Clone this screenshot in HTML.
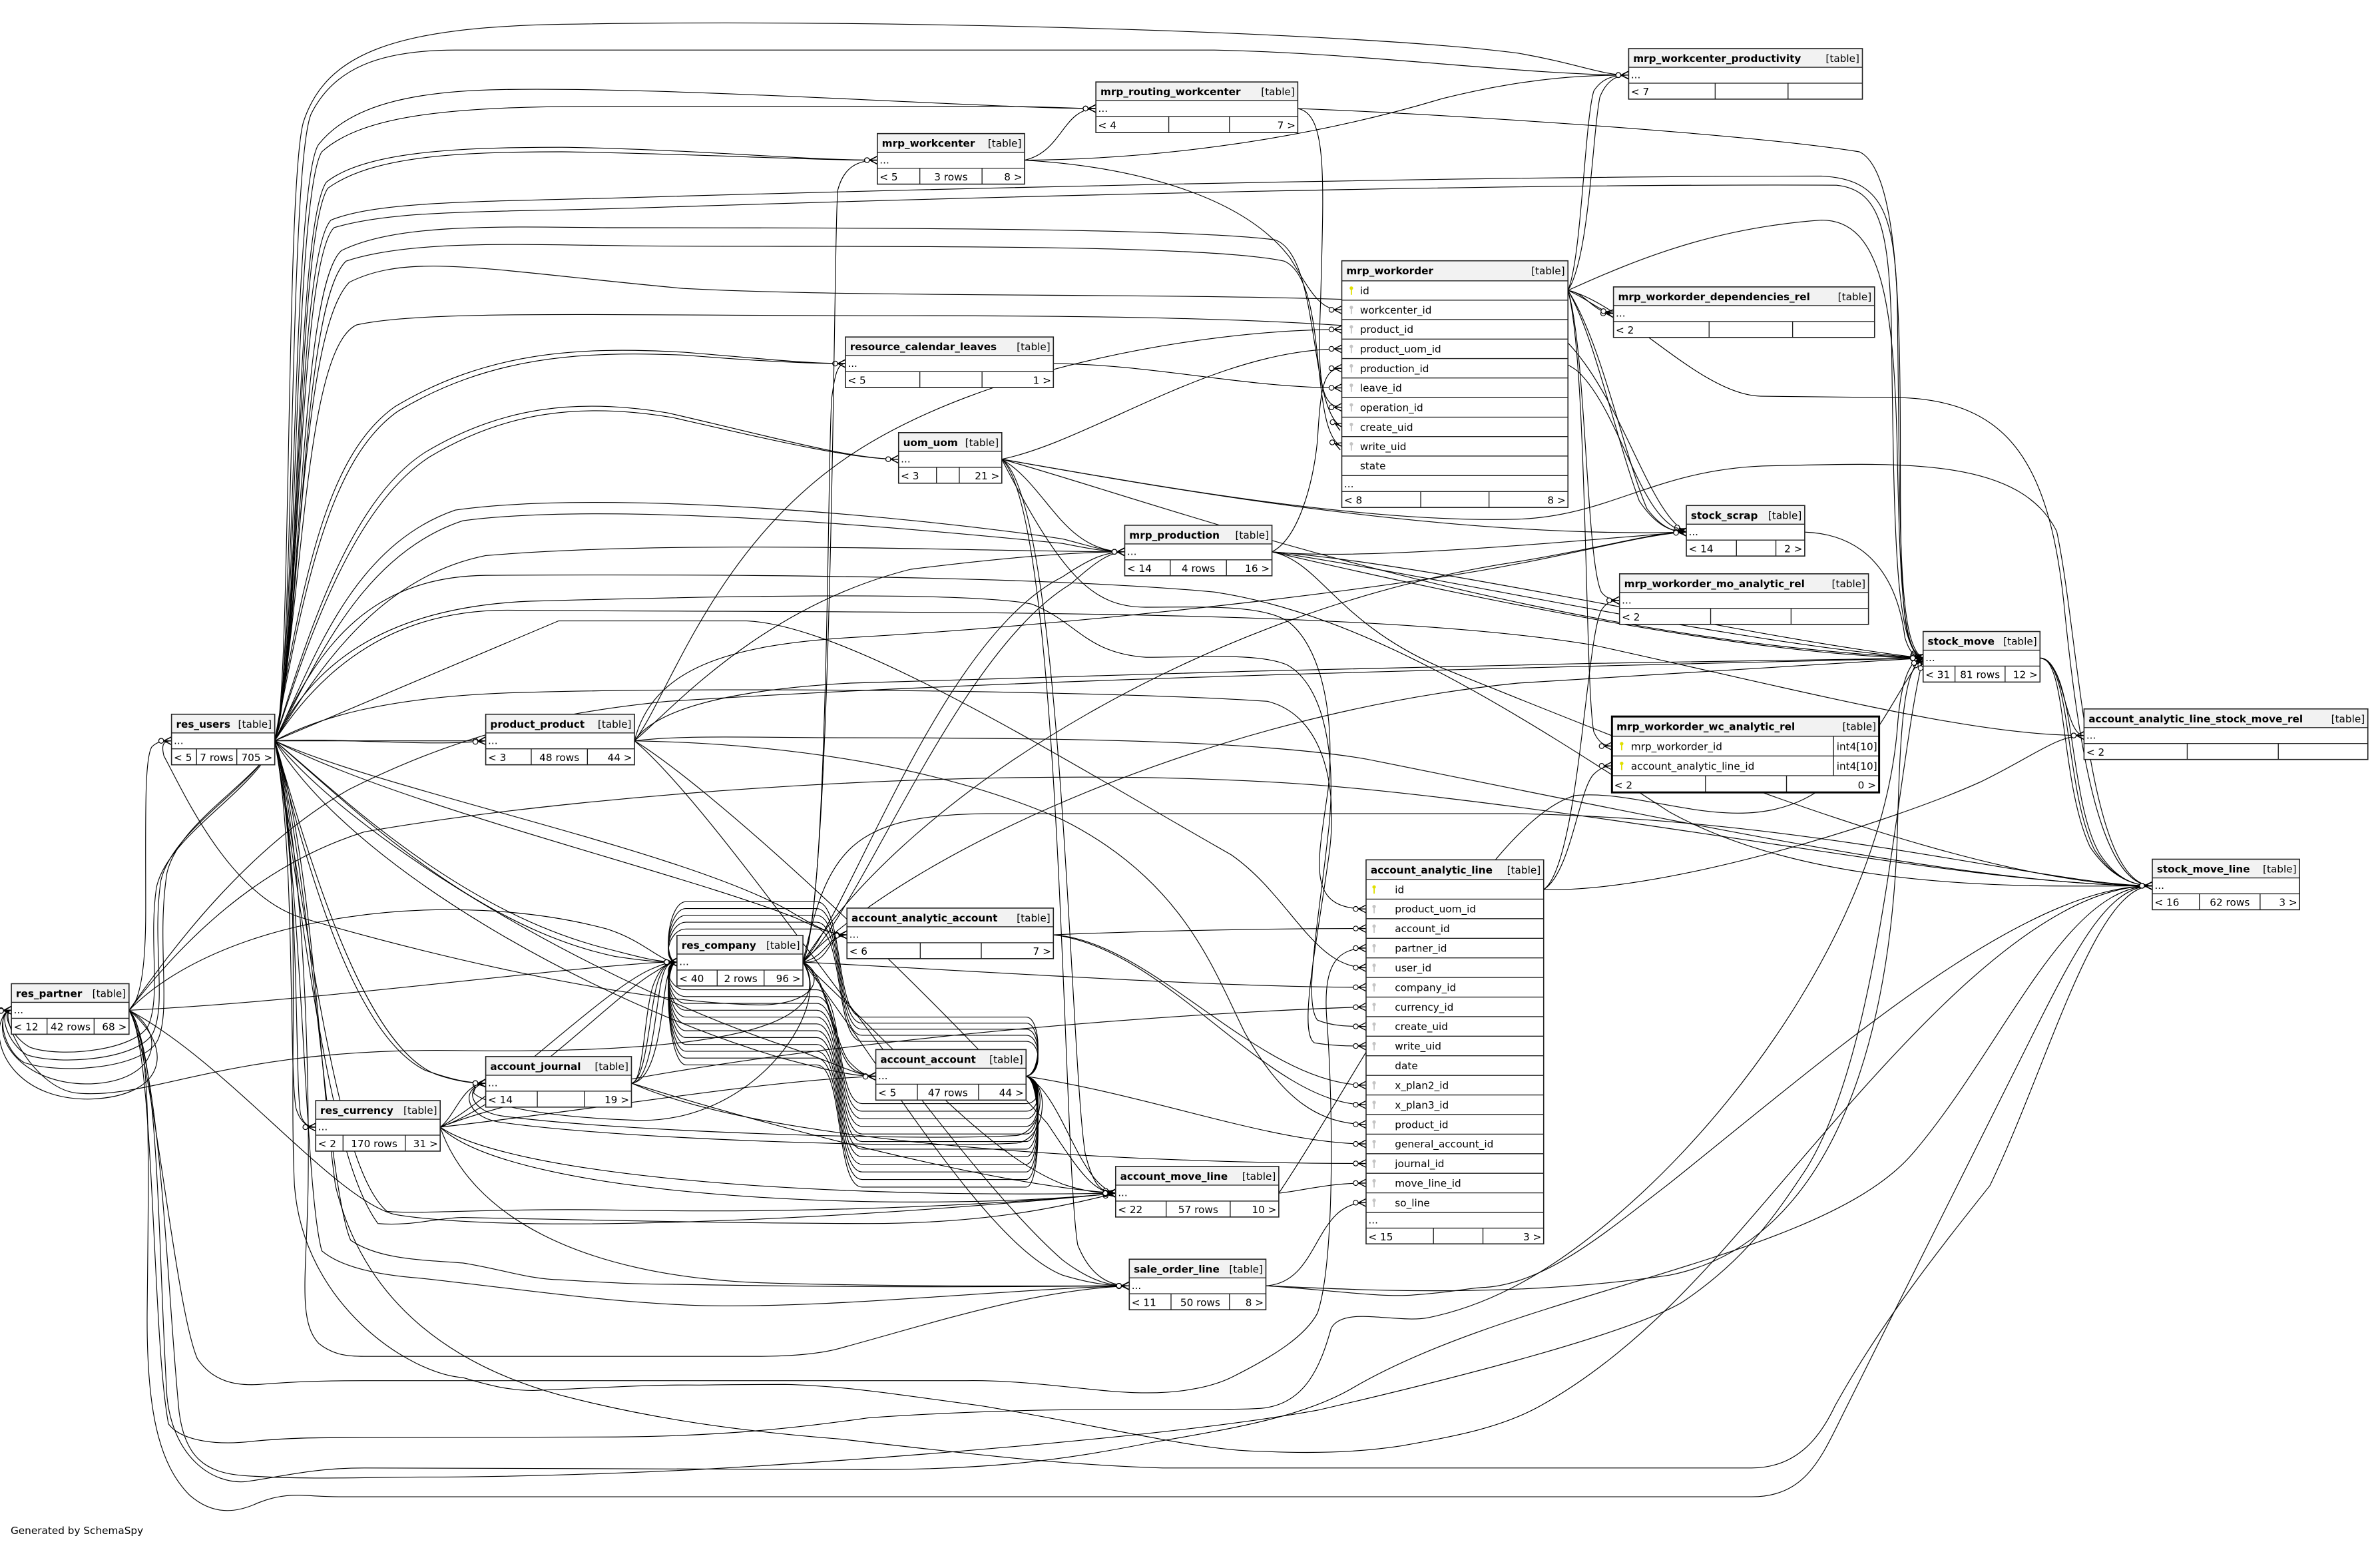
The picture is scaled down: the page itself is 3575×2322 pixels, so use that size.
<!DOCTYPE html>
<html><head><meta charset="utf-8"><title>SchemaSpy diagram</title>
<style>
html,body{margin:0;padding:0;background:#fff}
svg{display:block}
text{font-family:"DejaVu Sans","Liberation Sans",sans-serif;font-size:6.7px;fill:#000}
text.b{font-weight:bold}
text.r{text-anchor:end}
text.m{text-anchor:middle}
.e{fill:none;stroke:#000;stroke-width:.5;marker-end:url(#cf)}
.n{fill:none;stroke:#000;stroke-width:.5}
.tw{fill:#fff;stroke:none}
.th{fill:#f2f2f2;stroke:none}
.tl{fill:none;stroke:#222;stroke-width:.6}
.to{fill:none;stroke:#222;stroke-width:.7}
.tt{fill:none;stroke:#000;stroke-width:1.3}
</style></head>
<body>
<svg width="3575" height="2322" viewBox="0 0 1568 1018.42" preserveAspectRatio="none" xmlns="http://www.w3.org/2000/svg">
<defs>
<marker id="cf" viewBox="-10 -4 11 8" refX="0" refY="0" markerWidth="11" markerHeight="8" markerUnits="userSpaceOnUse" orient="auto">
<path d="M-5,0L0,-2.6M-5,0L0,0M-5,0L0,2.6" stroke="#000" stroke-width=".6" fill="none"/>
<circle cx="-6.8" cy="0" r="1.6" fill="#fff" stroke="#000" stroke-width=".5"/>
</marker>
<g id="kp"><circle cx="0" cy="-1.6" r="1.15" fill="#e0e000"/><rect x="-0.4" y="-0.8" width="0.8" height="3.6" fill="#e0e000"/></g>
<g id="kf"><circle cx="0" cy="-1.6" r="1.15" fill="#c4c4c4"/><rect x="-0.4" y="-0.8" width="0.8" height="3.6" fill="#c4c4c4"/></g>
</defs>
<rect x="0" y="0" width="1568" height="1018.42" fill="#fff"/>

<!-- ===== EDGES ===== -->
<g>
<path class="e" d="M181,488 C192,470 188,120 200,80 C215,35 260,18 370,16 C600,12 900,22 1000,35 C1040,42 1055,49.5 1073,49.5"/>
<path class="e" d="M181,488 C194,460 190,110 205,75 C220,45 250,33 300,33 L800,33 C900,35 1000,49 1073,49.5"/>
<path class="e" d="M181,488 C195,450 192,120 210,95 C230,70 270,60 330,59 C450,57 650,71.5 722,71.5"/>
<path class="e" d="M181,488 C196,450 193,130 212,100 C240,75 300,70 400,70 L650,70 C690,70 705,71.5 722,71.5"/>
<path class="e" d="M181,488 C197,440 194,150 215,120 C240,100 300,97 370,97 C450,98 530,105.5 578,105.5"/>
<path class="e" d="M181,488 C197,445 195,155 216,124 C245,103 300,100 370,100 C450,101 530,105.5 578,105.5"/>
<path class="e" d="M181,488 C198,430 195,170 218,145 C250,132 320,133 420,130 C700,122 1000,116 1200,116 C1240,118 1248,140 1250,200 C1252,350 1250,425 1267,433.5"/>
<path class="e" d="M181,488 C198,430 196,175 220,150 C260,138 320,140 420,137 C700,128 1000,121 1210,122 C1238,125 1244,150 1246,210 C1248,350 1248,428 1267,433.5"/>
<path class="e" d="M181,488 C199,420 197,190 225,165 C260,148 320,149 400,150 C550,150 780,150 840,158 C870,168 862,270 884,281.2"/>
<path class="e" d="M181,488 C199,420 198,200 228,172 C270,158 340,161 420,162 C560,163 790,160 846,172 C876,185 862,285 884,294"/>
<path class="e" d="M181,488 C199,400 198,220 230,186 C270,166 320,178 450,190 C600,198 900,190 1000,205 C1060,220 1080,335 1111,350.5"/>
<path class="e" d="M181,488 C200,400 200,230 235,214 C280,204 400,208 600,208 C800,208 1000,212 1040,245 C1070,275 1080,345 1111,350.5"/>
<path class="e" d="M181,488 C200,380 215,300 260,268 C320,232 380,228 450,232 C500,236 530,239.5 557,239.5"/>
<path class="e" d="M181,488 C201,385 217,303 262,271 C322,235 382,231 452,234 C502,238 532,239.5 557,239.5"/>
<path class="e" d="M181,488 C202,420 230,330 280,298 C330,268 380,262 440,272 C510,288 560,302.5 592,302.5"/>
<path class="e" d="M181,488 C203,422 232,334 283,301 C333,271 383,265 443,275 C513,291 562,302.5 592,302.5"/>
<path class="e" d="M181,488 C205,440 230,360 300,336 C400,322 600,340 700,355 C720,360 728,363.5 741,363.5"/>
<path class="e" d="M181,488 C205,445 235,366 305,343 C405,330 600,348 700,358 C720,362 730,363.5 741,363.5"/>
<path class="e" d="M181,488 C210,440 250,380 320,366 C450,355 650,363.5 741,363.5"/>
<path class="e" d="M181,488 C208,430 240,380 320,379 C500,378 690,380 800,390 C900,405 1000,470 1100,535 C1200,590 1350,583.5 1418,583.5"/>
<path class="e" d="M181,488 C212,440 260,400 340,402 C600,404 900,400 1050,425 C1200,458 1300,484.5 1373,484.5"/>
<path class="e" d="M181,488 L320,488"/>
<path class="e" d="M181,488 C230,486 280,492 320,488"/>
<path class="e" d="M181,488 L368,409 C380,409 480,409 492,409 C560,412 700,500 811,563 C850,590 865,637.45 900,637.45"/>
<path class="e" d="M181,488 C205,440 250,400 350,396 C500,392 640,390 680,398 C710,410 715,430 755,433 C790,433 830,430 848,438 C870,450 880,490 876,540 C870,600 858,660 868,672 C878,676 888,676.15 900,676.15"/>
<path class="e" d="M181,488 C205,475 250,458 350,456 C500,452 750,456 835,462 C868,470 882,510 876,560 C868,620 855,680 866,687 C878,689 888,689.05 900,689.05"/>
<path class="e" d="M181,488 C220,520 300,600 400,625 C420,630 432,633.8 446,633.8"/>
<path class="e" d="M181,488 C230,530 310,610 405,630 C425,633 435,633.8 446,633.8"/>
<path class="e" d="M181,488 C250,520 450,560 520,600 C540,612 548,615.8 558,615.8"/>
<path class="e" d="M181,488 C260,530 450,575 525,605 C542,613 550,615.8 558,615.8"/>
<path class="e" d="M181,488 C240,560 400,650 520,690 C550,700 565,709 577,709"/>
<path class="e" d="M181,488 C230,570 390,660 515,697 C545,705 562,709 577,709"/>
<path class="e" d="M181,488 C200,560 230,680 280,705 C300,712 310,713.5 320,713.5"/>
<path class="e" d="M181,488 C205,570 240,690 288,708 C303,713 312,713.5 320,713.5"/>
<path class="e" d="M181,488 C195,560 190,700 195,730 C198,740 203,742.5 208,742.5"/>
<path class="e" d="M181,488 C198,570 194,710 198,734 C200,741 204,742.5 208,742.5"/>
<path class="e" d="M181,488 C200,600 215,760 249,806 C270,808 290,802 305,802 C400,804 500,806 572,806 C650,806 700,795 735,786"/>
<path class="e" d="M181,488 C205,620 222,770 255,798 C280,800 320,796 400,797 C550,800 680,792 735,786"/>
<path class="e" d="M181,488 C200,560 204,700 203,781 C202,840 196,870 210,885 C220,893 230,893.5 240,893.5 L498,893.5 C520,893.5 540,892 554,888 C620,870 680,850 744,847"/>
<path class="e" d="M181,488 C205,570 215,780 231,817 C250,830 280,830 305,832 C330,836 350,843 369,843 C400,845 420,846 443,846 C550,848 650,848 744,847"/>
<path class="e" d="M181,488 C200,580 200,780 212,824 C225,835 250,840 277,842 C350,850 400,858 461,860 C550,862 650,850 744,847"/>
<path class="e" d="M181,488 C200,560 190,700 194,781 C200,860 270,905 305,907.5 C320,912 335,916 351,916 C400,914 430,912 461,912.4 C490,912 505,912 517,912 C560,913 600,920 646,926 C720,938 790,956 831,956 C870,958 900,956 923,952.5 C960,946 990,940 1015,926 C1080,890 1130,830 1172,781 C1250,690 1340,583.5 1418,583.5"/>
<path class="e" d="M181,488 C205,560 210,700 221,781 C240,860 300,900 369,919 C430,935 490,943 554,948 C640,958 700,965 766,967 L1154,967 C1185,967 1200,945 1209,926 C1240,870 1280,820 1311,781 C1350,700 1380,583.5 1418,583.5"/>
<path class="e" d="M181,488 C170,520 110,550 103,585 C98,620 106,655 98,675 C90,692 40,697 20,690 C8,684 0,666 7.5,665.5"/>
<path class="e" d="M181,488 C172,515 114,545 106,580 C100,620 110,660 101,680 C92,698 40,702 18,695 C5,688 -2,666 7.5,665.5"/>
<path class="e" d="M181,488 C174,512 118,540 110,575 C103,620 113,665 104,685 C95,704 40,708 16,700 C2,692 -3,666 7.5,665.5"/>

<path class="e" d="M85,665.5 C92,660 96,640 96,600 C96,540 95,500 100,492 C104,488 108,488 113,488"/>
<path class="e" d="M85,665.5 C200,660 350,640 420,635 C430,634 440,633.8 446,633.8"/>
<path class="e" d="M85,665.5 C150,600 300,585 400,612 C425,620 435,633.8 446,633.8"/>
<path class="e" d="M85,665.5 C110,630 160,560 230,520 C300,485 360,470 440,462 C700,445 1100,438 1267,433.5"/>
<path class="e" d="M85,665.5 C120,620 170,570 240,548 C400,520 700,500 900,520 C1100,540 1300,583.5 1418,583.5"/>
<path class="e" d="M85,665.5 C110,680 105,712 60,714 C20,715 -2,690 2,672 C3,667 5,665.5 7.5,665.5"/>
<path class="e" d="M85,665.5 C115,690 110,722 60,724 C15,725 -4,695 0,675 C2,668 4,665.5 7.5,665.5"/>
<path class="e" d="M85,665.5 C150,700 220,790 260,800 C350,815 600,800 735,786"/>
<path class="e" d="M85,665.5 C100,690 115,860 130,895 C140,910 155,913 171,912 C195,910 215,909.5 240,909.5 L637,909.5 C680,909 720,917 752,917.5 C780,918 800,913 812,907 C840,893 860,880 868,865 C880,830 878,720 874,670 C872,640 878,624.55 900,624.55"/>
<path class="e" d="M85,665.5 C100,680 98,760 97,860 C96,930 105,965 125,985 C140,998 155,997 170,990 C190,982 200,986 225,986 L1154,986 C1190,986 1200,960 1215,930 C1250,860 1300,760 1340,680 C1370,620 1390,583.5 1418,583.5"/>
<path class="e" d="M85,665.5 C105,690 104,820 110,920 C114,960 140,978 162,976 C185,973 205,967 240,967 L554,968 C650,969 700,962 760,950 C820,940 860,932 890,915 C1000,850 1200,830 1260,760 C1320,690 1360,583.5 1418,583.5"/>
<path class="e" d="M85,665.5 C106,700 110,850 118,930 C122,960 135,970 160,972 C200,975 250,973 277,973 C350,973 420,970 461,968 C600,960 780,945 868,929 C950,910 1070,880 1108,858 C1150,830 1170,800 1190,770 C1240,690 1250,500 1267,433.5"/>
<path class="e" d="M85,665.5 C102,690 100,880 111,938 C120,950 145,952 166,949.5 C190,947 210,947 240,947 L406,946.6 C480,946 530,940 572,934 C700,925 800,930 831,927.7 C860,925 870,900 877,875 C885,860 920,872 941,868 C990,858 1030,830 1060,805 C1150,730 1240,600 1250,480 C1252,450 1258,433.5 1267,433.5"/>

<path class="e" d="M529,633.8 C545,630 545,615.8 558,615.8"/>
<path class="e" d="M529,633.8 C548,635 543,617 558,615.8"/>
<path class="e" d="M529,633.8 C545,640 550,690 560,700 C566,706 570,709 577,709"/>
<path class="e" d="M529,633.8 C550,650 548,700 565,706 C570,708 573,709 577,709"/>
<path class="e" d="M529,633.8 C545,645 535,662 500,662 C400,660 250,620 197,604 C150,588 120,520 108,498 C106,490 108,488 113,488"/>
<path class="e" d="M529,633.8 C550,670 500,695 300,692 C150,690 100,725 50,720 C20,716 -2,666 7.5,665.5"/>
<path class="e" d="M529,633.8 C560,600 620,420 700,380 C718,368 728,363.5 741,363.5"/>
<path class="e" d="M529,633.8 C565,605 630,430 705,385 C720,372 730,363.5 741,363.5"/>
<path class="e" d="M529,633.8 C600,560 800,470 1000,450 C1150,440 1230,435 1267,433.5"/>
<path class="e" d="M529,633.8 C545,560 560,537 650,536 L1000,536 C1200,540 1350,583.5 1418,583.5"/>
<path class="e" d="M529,633.8 C600,520 800,400 1000,370 C1060,360 1090,350.5 1111,350.5"/>
<path class="e" d="M529,633.8 C546,600 545,300 548,262 C550,246 552,239.5 557,239.5"/>
<path class="e" d="M529,633.8 C549,590 549,150 552,125 C556,110 565,105.5 578,105.5"/>
<path class="e" d="M529,633.8 C600,700 650,760 700,780 C715,785 725,786 735,786"/>
<path class="e" d="M529,633.8 C580,700 650,820 700,840 C720,846 732,847 744,847"/>
<path class="e" d="M529,633.8 C650,640 800,650.35 900,650.35"/>
<path class="e" d="M529,633.8 C550,660 500,740 420,738 C360,736 320,728 312,720 C313,715 316,713.5 320,713.5"/>

<path class="e" d="M676,709 C687,711 686,727 676,727 L568,727 C550,727 556,652 538,652 L452,652 C440,652 436,634 446,633.8"/>
<path class="e" d="M676,709 C687,711 686,732 676,732 L568,732 C550,732 556,656.5 538,656.5 L452,656.5 C440,656.5 436,634 446,633.8"/>
<path class="e" d="M676,709 C687,711 686,737 676,737 L568,737 C550,737 556,661 538,661 L452,661 C440,661 436,634 446,633.8"/>
<path class="e" d="M676,709 C687,711 686,742 676,742 L568,742 C550,742 556,665.5 538,665.5 L452,665.5 C440,665.5 436,634 446,633.8"/>
<path class="e" d="M676,709 C687,711 686,747 676,747 L568,747 C550,747 556,670 538,670 L452,670 C440,670 436,634 446,633.8"/>
<path class="e" d="M676,709 C687,711 686,752 676,752 L568,752 C550,752 556,674.5 538,674.5 L452,674.5 C440,674.5 436,634 446,633.8"/>
<path class="e" d="M676,709 C687,711 686,757 676,757 L568,757 C550,757 556,679 538,679 L452,679 C440,679 436,634 446,633.8"/>
<path class="e" d="M676,709 C687,711 686,762 676,762 L568,762 C550,762 556,683.5 538,683.5 L452,683.5 C440,683.5 436,634 446,633.8"/>
<path class="e" d="M676,709 C687,711 686,767 676,767 L568,767 C550,767 556,688 538,688 L452,688 C440,688 436,634 446,633.8"/>
<path class="e" d="M676,709 C687,711 686,772 676,772 L568,772 C550,772 556,692.5 538,692.5 L452,692.5 C440,692.5 436,634 446,633.8"/>
<path class="e" d="M676,709 C687,711 686,777 676,777 L568,777 C550,777 556,697 538,697 L452,697 C440,697 436,634 446,633.8"/>
<path class="e" d="M676,709 C687,711 686,782 676,782 L568,782 C550,782 556,701.5 538,701.5 L452,701.5 C440,701.5 436,634 446,633.8"/>
<path class="e" d="M676,709 C687,707 686,686 676,686 L568,686 C550,686 556,612 538,612 L452,612 C440,612 436,634 446,633.8"/>
<path class="e" d="M676,709 C687,707 686,682 676,682 L568,682 C550,682 556,607.5 538,607.5 L452,607.5 C440,607.5 436,634 446,633.8"/>
<path class="e" d="M676,709 C687,707 686,678 676,678 L568,678 C550,678 556,603 538,603 L452,603 C440,603 436,634 446,633.8"/>
<path class="e" d="M676,709 C687,707 686,674 676,674 L568,674 C550,674 556,598.5 538,598.5 L452,598.5 C440,598.5 436,634 446,633.8"/>
<path class="e" d="M676,709 C687,707 686,670 676,670 L568,670 C550,670 556,594 538,594 L452,594 C440,594 436,634 446,633.8"/>
<path class="e" d="M676,709 C690,712 688,745 670,748 C600,752 400,745 330,735 C310,732 305,716 320,713.5"/>
<path class="e" d="M676,709 C692,712 690,750 670,753 C600,757 400,750 328,739 C306,735 303,716 320,713.5"/>
<path class="e" d="M676,709 C700,720 710,780 735,786"/>
<path class="e" d="M676,709 C760,722 840,753.55 900,753.55"/>

<path class="e" d="M416,713.5 C430,713 432,660 436,645 C438,637 440,633.8 446,633.8"/>
<path class="e" d="M416,713.5 C426,712 428,665 433,648 C436,638 439,633.8 446,633.8"/>
<path class="e" d="M416,713.5 C434,712 436,662 439,647 C441,638 442,633.8 446,633.8"/>
<path class="e" d="M416,713.5 C424,714 424,670 430,650 C434,639 438,633.8 446,633.8"/>
<path class="e" d="M416,713.5 C500,740 650,780 735,786"/>
<path class="e" d="M416,713.5 C520,760 800,766.45 900,766.45"/>

<path class="e" d="M290,742.5 C330,720 400,650 430,638 C437,635 440,633.8 446,633.8"/>
<path class="e" d="M290,742.5 C340,725 405,655 432,640 C438,636 441,633.8 446,633.8"/>
<path class="e" d="M290,742.5 C300,735 305,713.5 320,713.5"/>
<path class="e" d="M290,742.5 C340,790 600,800 735,786"/>
<path class="e" d="M290,742.5 C330,770 500,790 735,786"/>
<path class="e" d="M290,742.5 C310,800 380,840 500,845 C600,848 700,847 744,847"/>
<path class="e" d="M290,742.5 C400,700 700,670 900,663.25"/>
<path class="e" d="M290,742.5 C400,730 500,712 577,709"/>

<path class="e" d="M418,488 C440,460 470,360 560,300 C650,240 800,217 884,217"/>
<path class="e" d="M418,488 C440,470 500,400 600,375 C680,365 720,363.5 741,363.5"/>
<path class="e" d="M418,488 C430,440 480,425 560,420 C700,412 850,395 950,380 C1030,368 1080,352 1111,350.5"/>
<path class="e" d="M418,488 C430,470 470,455 560,450 C700,445 900,440 1050,437 C1150,435 1220,434 1267,433.5"/>
<path class="e" d="M418,488 C450,484 500,486 560,486 C700,486 830,488 900,500 C1100,540 1300,583.5 1418,583.5"/>
<path class="e" d="M418,488 C470,520 600,640 690,740 C710,770 720,786 735,786"/>
<path class="e" d="M418,488 C480,540 620,760 700,830 C720,845 732,847 744,847"/>
<path class="e" d="M418,488 C520,490 620,505 700,540 C780,580 800,640 820,680 C845,725 870,740.65 900,740.65"/>

<path class="e" d="M660,302.5 C720,290 800,230 884,229.8"/>
<path class="e" d="M660,302.5 C690,320 700,363.5 741,363.5"/>
<path class="e" d="M660,302.5 C760,320 950,355 1111,350.5"/>
<path class="e" d="M660,302.5 C760,330 1000,420 1267,433.5"/>
<path class="e" d="M660,302.5 C760,320 900,345 1000,342 C1060,340 1090,310 1161,307 C1250,305 1330,300 1355,350 C1370,420 1375,583.5 1418,583.5"/>
<path class="e" d="M660,302.5 C700,330 705,700 715,760 C720,780 725,786 735,786"/>
<path class="e" d="M660,302.5 C700,340 700,760 710,820 C718,840 730,847 744,847"/>
<path class="e" d="M660,302.5 C700,380 720,400 755,400 C790,400 830,398 848,409 C870,425 880,470 875,520 C868,570 860,598.75 900,598.75"/>

<path class="e" d="M675,105.5 C700,100 700,71.5 722,71.5"/>
<path class="e" d="M675,105.5 C750,105 850,95 950,65 C1010,50 1050,49.5 1073,49.5"/>
<path class="e" d="M675,105.5 C750,110 820,130 850,170 C865,195 870,204.1 884,204.1"/>
<path class="e" d="M855,71.5 C875,75 872,120 870,200 C868,250 870,268.3 884,268.3"/>
<path class="e" d="M855,71.5 C950,75 1150,88 1225,100 C1250,112 1252,200 1252,300 C1252,400 1254,430 1267,433.5"/>

<path class="e" d="M1033,191.3 C1045,193 1050,206.5 1063,206.5"/>
<path class="e" d="M1033,191.3 C1048,198 1052,204 1063,206.5"/>
<path class="e" d="M1033,191.3 C1042,170 1044,80 1050,60 C1055,52 1062,49.5 1073,49.5"/>
<path class="e" d="M1033,191.3 C1047,170 1049,90 1054,64 C1058,54 1064,49.5 1073,49.5"/>
<path class="e" d="M1033,191.3 C1050,220 1065,290 1080,330 C1090,345 1100,350.5 1111,350.5"/>
<path class="e" d="M1033,191.3 C1055,225 1070,300 1085,335 C1094,347 1102,350.5 1111,350.5"/>
<path class="e" d="M1033,191.3 C1045,230 1045,370 1055,390 C1058,394 1062,395.5 1067,395.5"/>
<path class="e" d="M1033,191.3 C1046,240 1044,450 1050,482 C1053,489 1057,491.5 1062,491.5"/>
<path class="e" d="M1033,191.3 C1080,170 1130,150 1200,145 C1240,145 1248,200 1250,300 C1252,400 1255,430 1267,433.5"/>
<path class="e" d="M1033,191.3 C1070,200 1120,260 1160,261 L1254,262 C1320,265 1350,300 1360,400 C1370,500 1385,583.5 1418,583.5"/>

<path class="e" d="M838,363.5 C950,380 1150,425 1267,433.5"/>
<path class="e" d="M838,363.5 C950,372 1150,420 1267,433.5"/>
<path class="e" d="M838,363.5 C960,392 1150,432 1267,433.5"/>
<path class="e" d="M838,363.5 C900,370 1050,355 1111,350.5"/>
<path class="e" d="M838,363.5 C870,370 880,410 950,440 C1100,500 1300,583.5 1418,583.5"/>
<path class="e" d="M838,363.5 C855,355 865,320 868,290 C870,255 872,242.6 884,242.6"/>

<path class="e" d="M694,239.5 C760,240 820,255.5 884,255.5"/>

<path class="e" d="M1189,350.5 C1230,352 1250,380 1255,420 C1258,430 1262,433.5 1267,433.5"/>
<path class="e" d="M1344,433.5 C1360,433 1360,484.5 1373,484.5"/>
<path class="e" d="M1344,433.5 C1365,435 1360,520 1380,560 C1392,578 1405,583.5 1418,583.5"/>
<path class="e" d="M1344,433.5 C1368,437 1362,525 1383,562 C1394,579 1406,583.5 1418,583.5"/>
<path class="e" d="M1344,433.5 C1362,433 1357,515 1377,558 C1390,577 1404,583.5 1418,583.5"/>

<path class="e" d="M1017,586 C1040,570 1045,420 1055,402 C1058,397 1062,395.5 1067,395.5"/>
<path class="e" d="M1017,586 C1035,575 1040,520 1050,510 C1054,506 1058,504.5 1062,504.5"/>
<path class="e" d="M1017,586 C1100,588 1250,540 1305,515 C1340,498 1355,484.5 1373,484.5"/>

<path class="e" d="M842.5,786 C860,784 875,779.35 900,779.35"/>
<path class="e" d="M842.5,786 C900,700 980,540 1038,524 C1080,520 1134,547 1180,530 C1230,512 1250,450 1267,433.5"/>
<path class="e" d="M834,847 C870,845 865,792.25 900,792.25"/>
<path class="e" d="M834,847 C900,850 1000,855 1100,840 C1200,820 1245,700 1250,550 C1252,470 1255,440 1267,433.5"/>
<path class="e" d="M834,847 C880,850 910,855 932,853 C960,851 970,848 979,848 C1020,845 1060,810 1098,781 C1200,700 1330,583.5 1418,583.5"/>

<path class="e" d="M694,615.8 C760,613 840,611.65 900,611.65"/>
<path class="e" d="M694,615.8 C760,620 830,714.85 900,714.85"/>
<path class="e" d="M694,615.8 C770,625 835,727.75 900,727.75"/>
</g>

<!-- ===== TABLES ===== -->
<g>
<rect x="1073" y="32" width="154" height="33.3" class="tw"/><rect x="1073" y="32" width="154" height="12.3" class="th"/>
<path class="tl" d="M1073,44.3h154M1073,54.8h154M1130,54.8v10.5M1178,54.8v10.5"/><rect x="1073" y="32" width="154" height="33.3" class="to"/>
<text x="1076" y="40.8" class="b">mrp_workcenter_productivity</text><text x="1225" y="40.8" class="r">[table]</text>
<text x="1074.5" y="51.6">...</text><text x="1074.5" y="62.8">&lt; 7</text>

<rect x="722" y="54" width="133" height="33.3" class="tw"/><rect x="722" y="54" width="133" height="12.3" class="th"/>
<path class="tl" d="M722,66.3h133M722,76.8h133M770,76.8v10.5M810,76.8v10.5"/><rect x="722" y="54" width="133" height="33.3" class="to"/>
<text x="725" y="62.8" class="b">mrp_routing_workcenter</text><text x="853" y="62.8" class="r">[table]</text>
<text x="723.5" y="73.6">...</text><text x="723.5" y="84.8">&lt; 4</text><text x="853.5" y="84.8" class="r">7 &gt;</text>

<rect x="578" y="88" width="97" height="33.3" class="tw"/><rect x="578" y="88" width="97" height="12.3" class="th"/>
<path class="tl" d="M578,100.3h97M578,110.8h97M606,110.8v10.5M647,110.8v10.5"/><rect x="578" y="88" width="97" height="33.3" class="to"/>
<text x="581" y="96.8" class="b">mrp_workcenter</text><text x="673" y="96.8" class="r">[table]</text>
<text x="579.5" y="107.6">...</text><text x="579.5" y="118.8">&lt; 5</text><text x="626.5" y="118.8" class="m">3 rows</text><text x="673.5" y="118.8" class="r">8 &gt;</text>

<rect x="1063" y="189" width="172" height="33.3" class="tw"/><rect x="1063" y="189" width="172" height="12.3" class="th"/>
<path class="tl" d="M1063,201.3h172M1063,211.8h172M1126,211.8v10.5M1181,211.8v10.5"/><rect x="1063" y="189" width="172" height="33.3" class="to"/>
<text x="1066" y="197.8" class="b">mrp_workorder_dependencies_rel</text><text x="1233" y="197.8" class="r">[table]</text>
<text x="1064.5" y="208.6">...</text><text x="1064.5" y="219.8">&lt; 2</text>

<rect x="1111" y="333" width="78" height="33.3" class="tw"/><rect x="1111" y="333" width="78" height="12.3" class="th"/>
<path class="tl" d="M1111,345.3h78M1111,355.8h78M1144,355.8v10.5M1170,355.8v10.5"/><rect x="1111" y="333" width="78" height="33.3" class="to"/>
<text x="1114" y="341.8" class="b">stock_scrap</text><text x="1187" y="341.8" class="r">[table]</text>
<text x="1112.5" y="352.6">...</text><text x="1112.5" y="363.8">&lt; 14</text><text x="1187.5" y="363.8" class="r">2 &gt;</text>

<rect x="1067" y="378" width="164" height="33.3" class="tw"/><rect x="1067" y="378" width="164" height="12.3" class="th"/>
<path class="tl" d="M1067,390.3h164M1067,400.8h164M1127,400.8v10.5M1180,400.8v10.5"/><rect x="1067" y="378" width="164" height="33.3" class="to"/>
<text x="1070" y="386.8" class="b">mrp_workorder_mo_analytic_rel</text><text x="1229" y="386.8" class="r">[table]</text>
<text x="1068.5" y="397.6">...</text><text x="1068.5" y="408.8">&lt; 2</text>

<rect x="1267" y="416" width="77" height="33.3" class="tw"/><rect x="1267" y="416" width="77" height="12.3" class="th"/>
<path class="tl" d="M1267,428.3h77M1267,438.8h77M1288,438.8v10.5M1321,438.8v10.5"/><rect x="1267" y="416" width="77" height="33.3" class="to"/>
<text x="1270" y="424.8" class="b">stock_move</text><text x="1342" y="424.8" class="r">[table]</text>
<text x="1268.5" y="435.6">...</text><text x="1268.5" y="446.8">&lt; 31</text><text x="1304.5" y="446.8" class="m">81 rows</text><text x="1342.5" y="446.8" class="r">12 &gt;</text>

<rect x="1373" y="467" width="187" height="33.3" class="tw"/><rect x="1373" y="467" width="187" height="12.3" class="th"/>
<path class="tl" d="M1373,479.3h187M1373,489.8h187M1441,489.8v10.5M1501,489.8v10.5"/><rect x="1373" y="467" width="187" height="33.3" class="to"/>
<text x="1376" y="475.8" class="b">account_analytic_line_stock_move_rel</text><text x="1558" y="475.8" class="r">[table]</text>
<text x="1374.5" y="486.6">...</text><text x="1374.5" y="497.8">&lt; 2</text>

<rect x="1418" y="566" width="97" height="33.3" class="tw"/><rect x="1418" y="566" width="97" height="12.3" class="th"/>
<path class="tl" d="M1418,578.3h97M1418,588.8h97M1449,588.8v10.5M1489,588.8v10.5"/><rect x="1418" y="566" width="97" height="33.3" class="to"/>
<text x="1421" y="574.8" class="b">stock_move_line</text><text x="1513" y="574.8" class="r">[table]</text>
<text x="1419.5" y="585.6">...</text><text x="1419.5" y="596.8">&lt; 16</text><text x="1469" y="596.8" class="m">62 rows</text><text x="1513.5" y="596.8" class="r">3 &gt;</text>

<rect x="557" y="222" width="137" height="33.3" class="tw"/><rect x="557" y="222" width="137" height="12.3" class="th"/>
<path class="tl" d="M557,234.3h137M557,244.8h137M606,244.8v10.5M647,244.8v10.5"/><rect x="557" y="222" width="137" height="33.3" class="to"/>
<text x="560" y="230.8" class="b">resource_calendar_leaves</text><text x="692" y="230.8" class="r">[table]</text>
<text x="558.5" y="241.6">...</text><text x="558.5" y="252.8">&lt; 5</text><text x="692.5" y="252.8" class="r">1 &gt;</text>

<rect x="592" y="285" width="68" height="33.3" class="tw"/><rect x="592" y="285" width="68" height="12.3" class="th"/>
<path class="tl" d="M592,297.3h68M592,307.8h68M617,307.8v10.5M632,307.8v10.5"/><rect x="592" y="285" width="68" height="33.3" class="to"/>
<text x="595" y="293.8" class="b">uom_uom</text><text x="658" y="293.8" class="r">[table]</text>
<text x="593.5" y="304.6">...</text><text x="593.5" y="315.8">&lt; 3</text><text x="658.5" y="315.8" class="r">21 &gt;</text>

<rect x="741" y="346" width="97" height="33.3" class="tw"/><rect x="741" y="346" width="97" height="12.3" class="th"/>
<path class="tl" d="M741,358.3h97M741,368.8h97M771,368.8v10.5M808,368.8v10.5"/><rect x="741" y="346" width="97" height="33.3" class="to"/>
<text x="744" y="354.8" class="b">mrp_production</text><text x="836" y="354.8" class="r">[table]</text>
<text x="742.5" y="365.6">...</text><text x="742.5" y="376.8">&lt; 14</text><text x="789.5" y="376.8" class="m">4 rows</text><text x="836.5" y="376.8" class="r">16 &gt;</text>

<rect x="113" y="470.5" width="68" height="33.3" class="tw"/><rect x="113" y="470.5" width="68" height="12.3" class="th"/>
<path class="tl" d="M113,482.8h68M113,493.3h68M129.5,493.3v10.5M156,493.3v10.5"/><rect x="113" y="470.5" width="68" height="33.3" class="to"/>
<text x="116" y="479.3" class="b">res_users</text><text x="179" y="479.3" class="r">[table]</text>
<text x="114.5" y="490.1">...</text><text x="114.5" y="501.3">&lt; 5</text><text x="142.75" y="501.3" class="m">7 rows</text><text x="179.5" y="501.3" class="r">705 &gt;</text>

<rect x="320" y="470.5" width="98" height="33.3" class="tw"/><rect x="320" y="470.5" width="98" height="12.3" class="th"/>
<path class="tl" d="M320,482.8h98M320,493.3h98M350,493.3v10.5M387,493.3v10.5"/><rect x="320" y="470.5" width="98" height="33.3" class="to"/>
<text x="323" y="479.3" class="b">product_product</text><text x="416" y="479.3" class="r">[table]</text>
<text x="321.5" y="490.1">...</text><text x="321.5" y="501.3">&lt; 3</text><text x="368.5" y="501.3" class="m">48 rows</text><text x="416.5" y="501.3" class="r">44 &gt;</text>

<rect x="7.5" y="648" width="77.5" height="33.3" class="tw"/><rect x="7.5" y="648" width="77.5" height="12.3" class="th"/>
<path class="tl" d="M7.5,660.3h77.5M7.5,670.8h77.5M31,670.8v10.5M62,670.8v10.5"/><rect x="7.5" y="648" width="77.5" height="33.3" class="to"/>
<text x="10.5" y="656.8" class="b">res_partner</text><text x="83" y="656.8" class="r">[table]</text>
<text x="9" y="667.6">...</text><text x="9" y="678.8">&lt; 12</text><text x="46.5" y="678.8" class="m">42 rows</text><text x="83.5" y="678.8" class="r">68 &gt;</text>

<rect x="446" y="616.2" width="83" height="33.3" class="tw"/><rect x="446" y="616.2" width="83" height="12.3" class="th"/>
<path class="tl" d="M446,628.5h83M446,639h83M472.5,639v10.5M503.4,639v10.5"/><rect x="446" y="616.2" width="83" height="33.3" class="to"/>
<text x="449" y="625" class="b">res_company</text><text x="527" y="625" class="r">[table]</text>
<text x="447.5" y="635.8">...</text><text x="447.5" y="647">&lt; 40</text><text x="488" y="647" class="m">2 rows</text><text x="527.5" y="647" class="r">96 &gt;</text>

<rect x="558" y="598.2" width="136" height="33.3" class="tw"/><rect x="558" y="598.2" width="136" height="12.3" class="th"/>
<path class="tl" d="M558,610.5h136M558,621h136M606.3,621v10.5M646.5,621v10.5"/><rect x="558" y="598.2" width="136" height="33.3" class="to"/>
<text x="561" y="607" class="b">account_analytic_account</text><text x="692" y="607" class="r">[table]</text>
<text x="559.5" y="617.8">...</text><text x="559.5" y="629">&lt; 6</text><text x="692.5" y="629" class="r">7 &gt;</text>

<rect x="577" y="691.4" width="99" height="33.3" class="tw"/><rect x="577" y="691.4" width="99" height="12.3" class="th"/>
<path class="tl" d="M577,703.7h99M577,714.2h99M604.4,714.2v10.5M644.7,714.2v10.5"/><rect x="577" y="691.4" width="99" height="33.3" class="to"/>
<text x="580" y="700.2" class="b">account_account</text><text x="674" y="700.2" class="r">[table]</text>
<text x="578.5" y="711">...</text><text x="578.5" y="722.2">&lt; 5</text><text x="624.5" y="722.2" class="m">47 rows</text><text x="674.5" y="722.2" class="r">44 &gt;</text>

<rect x="320" y="696" width="96" height="33.3" class="tw"/><rect x="320" y="696" width="96" height="12.3" class="th"/>
<path class="tl" d="M320,708.3h96M320,718.8h96M354,718.8v10.5M385,718.8v10.5"/><rect x="320" y="696" width="96" height="33.3" class="to"/>
<text x="323" y="704.8" class="b">account_journal</text><text x="414" y="704.8" class="r">[table]</text>
<text x="321.5" y="715.6">...</text><text x="321.5" y="726.8">&lt; 14</text><text x="414.5" y="726.8" class="r">19 &gt;</text>

<rect x="208" y="725" width="82" height="33.3" class="tw"/><rect x="208" y="725" width="82" height="12.3" class="th"/>
<path class="tl" d="M208,737.3h82M208,747.8h82M226,747.8v10.5M267,747.8v10.5"/><rect x="208" y="725" width="82" height="33.3" class="to"/>
<text x="211" y="733.8" class="b">res_currency</text><text x="288" y="733.8" class="r">[table]</text>
<text x="209.5" y="744.6">...</text><text x="209.5" y="755.8">&lt; 2</text><text x="246.5" y="755.8" class="m">170 rows</text><text x="288.5" y="755.8" class="r">31 &gt;</text>

<rect x="735" y="768.4" width="107.5" height="33.3" class="tw"/><rect x="735" y="768.4" width="107.5" height="12.3" class="th"/>
<path class="tl" d="M735,780.7h107.5M735,791.2h107.5M768.3,791.2v10.5M810.5,791.2v10.5"/><rect x="735" y="768.4" width="107.5" height="33.3" class="to"/>
<text x="738" y="777.2" class="b">account_move_line</text><text x="840.5" y="777.2" class="r">[table]</text>
<text x="736.5" y="788">...</text><text x="736.5" y="799.2">&lt; 22</text><text x="789.4" y="799.2" class="m">57 rows</text><text x="841" y="799.2" class="r">10 &gt;</text>

<rect x="744" y="829.5" width="90" height="33.3" class="tw"/><rect x="744" y="829.5" width="90" height="12.3" class="th"/>
<path class="tl" d="M744,841.8h90M744,852.3h90M771.5,852.3v10.5M810,852.3v10.5"/><rect x="744" y="829.5" width="90" height="33.3" class="to"/>
<text x="747" y="838.3" class="b">sale_order_line</text><text x="832" y="838.3" class="r">[table]</text>
<text x="745.5" y="849.1">...</text><text x="745.5" y="860.3">&lt; 11</text><text x="790.75" y="860.3" class="m">50 rows</text><text x="832.5" y="860.3" class="r">8 &gt;</text>

<rect x="884" y="171.8" width="149" height="162.5" class="tw"/><rect x="884" y="171.8" width="149" height="13.2" class="th"/>
<path class="tl" d="M884,185h149M884,197.7h149M884,210.5h149M884,223.4h149M884,236.2h149M884,249h149M884,261.9h149M884,274.8h149M884,287.6h149M884,300.4h149M884,313.3h149M884,323.8h149M936,323.8v10.5M981,323.8v10.5"/>
<rect x="884" y="171.8" width="149" height="162.5" class="to"/>
<text x="887" y="180.8" class="b">mrp_workorder</text><text x="1031" y="180.8" class="r">[table]</text>
<use href="#kp" x="890.3" y="191.4"/><text x="896" y="193.9">id</text>
<use href="#kf" x="890.3" y="204.1"/><text x="896" y="206.6">workcenter_id</text>
<use href="#kf" x="890.3" y="216.9"/><text x="896" y="219.4">product_id</text>
<use href="#kf" x="890.3" y="229.8"/><text x="896" y="232.3">product_uom_id</text>
<use href="#kf" x="890.3" y="242.6"/><text x="896" y="245.1">production_id</text>
<use href="#kf" x="890.3" y="255.4"/><text x="896" y="257.9">leave_id</text>
<use href="#kf" x="890.3" y="268.3"/><text x="896" y="270.8">operation_id</text>
<use href="#kf" x="890.3" y="281.2"/><text x="896" y="283.7">create_uid</text>
<use href="#kf" x="890.3" y="294"/><text x="896" y="296.5">write_uid</text>
<text x="896" y="309.3">state</text>
<text x="885.5" y="321">...</text>
<text x="885.5" y="331.8">&lt; 8</text><text x="1031.5" y="331.8" class="r">8 &gt;</text>

<rect x="900" y="566.4" width="117" height="253" class="tw"/><rect x="900" y="566.4" width="117" height="13" class="th"/>
<path class="tl" d="M900,579.4h117M900,592.3h117M900,605.2h117M900,618.1h117M900,631h117M900,643.9h117M900,656.8h117M900,669.7h117M900,682.6h117M900,695.5h117M900,708.4h117M900,721.3h117M900,734.2h117M900,747.1h117M900,760h117M900,772.9h117M900,785.8h117M900,798.7h117M900,809h117M944.4,809v10.4M977,809v10.4"/>
<rect x="900" y="566.4" width="117" height="253" class="to"/>
<text x="903" y="575.4" class="b">account_analytic_line</text><text x="1015" y="575.4" class="r">[table]</text>
<use href="#kp" x="905.3" y="585.9"/><text x="919" y="588.3">id</text>
<use href="#kf" x="905.3" y="598.8"/><text x="919" y="601.2">product_uom_id</text>
<use href="#kf" x="905.3" y="611.7"/><text x="919" y="614.1">account_id</text>
<use href="#kf" x="905.3" y="624.6"/><text x="919" y="627">partner_id</text>
<use href="#kf" x="905.3" y="637.5"/><text x="919" y="639.9">user_id</text>
<use href="#kf" x="905.3" y="650.4"/><text x="919" y="652.8">company_id</text>
<use href="#kf" x="905.3" y="663.3"/><text x="919" y="665.7">currency_id</text>
<use href="#kf" x="905.3" y="676.2"/><text x="919" y="678.6">create_uid</text>
<use href="#kf" x="905.3" y="689.1"/><text x="919" y="691.5">write_uid</text>
<text x="919" y="704.4">date</text>
<use href="#kf" x="905.3" y="714.9"/><text x="919" y="717.3">x_plan2_id</text>
<use href="#kf" x="905.3" y="727.8"/><text x="919" y="730.2">x_plan3_id</text>
<use href="#kf" x="905.3" y="740.7"/><text x="919" y="743.1">product_id</text>
<use href="#kf" x="905.3" y="753.6"/><text x="919" y="756">general_account_id</text>
<use href="#kf" x="905.3" y="766.5"/><text x="919" y="768.9">journal_id</text>
<use href="#kf" x="905.3" y="779.4"/><text x="919" y="781.8">move_line_id</text>
<use href="#kf" x="905.3" y="792.3"/><text x="919" y="794.7">so_line</text>
<text x="901.5" y="806">...</text>
<text x="901.5" y="817">&lt; 15</text><text x="1015.5" y="817" class="r">3 &gt;</text>

<rect x="1062" y="472" width="176" height="50" class="tw"/><rect x="1062" y="472" width="176" height="13" class="th"/>
<path class="tl" d="M1062,485h176M1062,498h176M1062,511h176M1208,485v26M1123.6,511v11M1177,511v11"/>
<rect x="1062" y="472" width="176" height="50" class="tt"/>
<text x="1065" y="481" class="b">mrp_workorder_wc_analytic_rel</text><text x="1236" y="481" class="r">[table]</text>
<use href="#kp" x="1068.4" y="491.5"/><text x="1074.5" y="494">mrp_workorder_id</text><text x="1210" y="494">int4[10]</text>
<use href="#kp" x="1068.4" y="504.5"/><text x="1074.5" y="507">account_analytic_line_id</text><text x="1210" y="507">int4[10]</text>
<text x="1063.5" y="519.5">&lt; 2</text><text x="1236" y="519.5" class="r">0 &gt;</text>
</g>

<text x="7" y="1010.5">Generated by SchemaSpy</text>
</svg>
</body></html>
